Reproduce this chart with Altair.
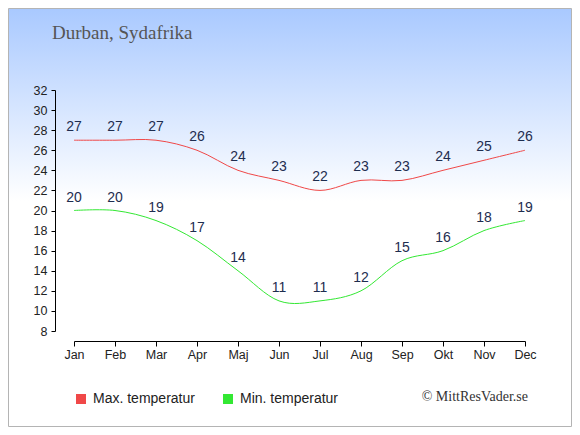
import altair as alt
import pandas as pd

months = ["Jan", "Feb", "Mar", "Apr", "Maj", "Jun", "Jul", "Aug", "Sep", "Okt", "Nov", "Dec"]
max_temp = [27, 27, 27, 26, 24, 23, 22, 23, 23, 24, 25, 26]
min_temp = [20, 20, 19, 17, 14, 11, 11, 12, 15, 16, 18, 19]
series_names = ["Max. temperatur", "Min. temperatur"]
series_colors = ["#f04848", "#33e833"]
y_ticks = list(range(8, 33, 2))
title_text = "Durban, Sydafrika"
credit_text = "© MittResVader.se"

rows = []
for m, v in zip(months, max_temp):
    rows.append({"month": m, "temp": v, "series": series_names[0]})
for m, v in zip(months, min_temp):
    rows.append({"month": m, "temp": v, "series": series_names[1]})
df = pd.DataFrame(rows)

W, H = 451, 241
PL, PT, PR, PB = 66, 82, 47, 96

gradient = alt.LinearGradient(
    gradient="linear",
    stops=[
        alt.GradientStop(color="#a9c9ff", offset=0),
        alt.GradientStop(color="#ffffff", offset=0.46),
        alt.GradientStop(color="#ffffff", offset=1),
    ],
    x1=0, x2=0, y1=0, y2=1,
)

one = pd.DataFrame({"k": [0]})
bg = alt.Chart(one).mark_rect(fill=gradient, stroke="#b4b4b4", strokeWidth=1).encode(
    x=alt.value(-PL + 0.5), x2=alt.value(W + PR - 0.5),
    y=alt.value(-PT + 0.5), y2=alt.value(H + PB - 0.5),
)

title = alt.Chart(one).mark_text(
    text=title_text, font="Liberation Serif", fontSize=19, color="#555555",
    align="left", baseline="alphabetic",
).encode(x=alt.value(-22), y=alt.value(-51))

credit = alt.Chart(one).mark_text(
    text=credit_text, font="Liberation Serif", fontSize=14, color="#333333",
    align="right", baseline="middle",
).encode(x=alt.value(454), y=alt.value(307))

axis_common = dict(title=None, domainColor="#000000", tickColor="#000000", grid=False, zindex=2,
                   labelFont="Liberation Sans", labelFontSize=12.5, labelColor="#222222",
                   labelOverlap=False)
xenc = alt.X("month:N", sort=months, scale=alt.Scale(type="point", padding=0),
             axis=alt.Axis(labelAngle=0, offset=10, tickSize=5, labelPadding=2, **axis_common))
yenc = alt.Y("temp:Q", scale=alt.Scale(domain=[8, 32], nice=False, zero=False),
             axis=alt.Axis(values=y_ticks, offset=19, tickSize=4, labelPadding=4, **axis_common))

lines = alt.Chart(df).mark_line(interpolate="cardinal", strokeWidth=1).encode(
    x=xenc, y=yenc,
    color=alt.Color("series:N", scale=alt.Scale(domain=series_names, range=series_colors), legend=None)
)

legend_layer = alt.Chart(df).mark_square(opacity=0, filled=True).encode(
    x=xenc, y=yenc,
    color=alt.Color("series:N", scale=alt.Scale(domain=series_names, range=series_colors),
                    legend=alt.Legend(title=None, orient="none", legendX=0, legendY=302,
                                      direction="horizontal", symbolType="square",
                                      symbolSize=100, symbolStrokeWidth=0, symbolOpacity=1,
                                      labelFont="Liberation Sans", labelFontSize=14,
                                      labelColor="#222222", columnPadding=26, labelOffset=5))
)

labels = alt.Chart(df).mark_text(dy=-13, font="Liberation Sans", fontSize=14, color="#1e2d4f").encode(
    x=xenc, y=yenc, text="temp:Q"
)

chart = alt.layer(bg, title, credit, lines, legend_layer, labels).resolve_scale(
    color="independent"
).properties(
    width=W, height=H,
    autosize=alt.AutoSizeParams(type="none"),
    padding={"left": PL, "top": PT, "right": PR, "bottom": PB},
).configure_view(stroke=None)

chart.save("out.html", embed_options={"renderer": "svg", "actions": False})
